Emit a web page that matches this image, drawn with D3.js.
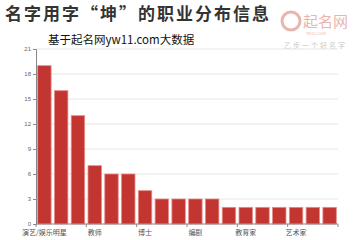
<!DOCTYPE html>
<html>
<head>
<meta charset="utf-8">
<script src="https://cdn.jsdelivr.net/npm/d3@7"></script>
<style>
  body { margin: 0; background: #fff; }
  svg { display: block; font-family: "Noto Sans CJK SC", "Noto Sans", sans-serif; }
</style>
</head>
<body>
<script>
// 职业名称 (only every third one shows on the axis)
const categories = ["演艺/娱乐明星", "商人", "作家", "教师", "医生", "画家", "博士", "律师", "导演",
  "编剧", "工程师", "歌手", "教育家", "运动员", "主持人", "艺术家", "科学家", "书法家"];
const counts = [19, 16, 13, 7, 6, 6, 4, 3, 3, 3, 3, 2, 2, 2, 2, 2, 2, 2];
const yTicks = [0, 3, 6, 9, 12, 15, 18, 21];

const W = 360, H = 240;
const mLeft = 36, mRight = 338, mTop = 49, mBottom = 224;

const svg = d3.select("body").append("svg").attr("width", W).attr("height", H);

// watermark logo top right
const logo = svg.append("g").attr("opacity", 0.55);
logo.append("circle").attr("cx", 291).attr("cy", 21).attr("r", 9)
  .attr("fill", "none").attr("stroke", "#d9796f").attr("stroke-width", 3);
logo.append("text").attr("x", 303).attr("y", 27).attr("font-size", 15)
  .attr("fill", "#d9796f").text("起名网");
logo.append("text").attr("x", 306).attr("y", 35).attr("font-size", 4)
  .attr("fill", "#d9796f").text("YW11.COM");
logo.append("text").attr("x", 284).attr("y", 48).attr("font-size", 7)
  .attr("fill", "#999").attr("letter-spacing", 2).text("乙步一个好名字");

// titles
svg.append("text").attr("x", 5).attr("y", 20)
  .attr("font-size", 17).attr("font-weight", "bold").attr("fill", "#333")
  .attr("letter-spacing", 2)
  .text("名字用字“坤”的职业分布信息");
svg.append("text").attr("x", 48).attr("y", 44)
  .attr("font-size", 11.5).attr("fill", "#111")
  .text("基于起名网yw11.com大数据");

const x = d3.scaleBand().domain(categories).range([mLeft, mRight]).paddingInner(0.2).paddingOuter(0.1);
const xb = d3.scaleBand().domain(categories).range([mLeft, mRight]);
const y = d3.scaleLinear().domain([0, 21]).range([mBottom, mTop]);

// grid
svg.append("g").selectAll("line").data(yTicks.filter(d => d > 0)).join("line")
  .attr("x1", mLeft).attr("x2", mRight)
  .attr("y1", d => y(d)).attr("y2", d => y(d))
  .attr("stroke", "#e6e6e6").attr("stroke-width", 1);

// bars
svg.append("g").selectAll("rect").data(counts).join("rect")
  .attr("x", (d, i) => x(categories[i]))
  .attr("y", d => y(d))
  .attr("width", x.bandwidth())
  .attr("height", d => y(0) - y(d))
  .attr("fill", "#c23531")
  .attr("stroke", "#e88b86").attr("stroke-width", 0.8);

// y axis
const yAxis = svg.append("g").attr("transform", `translate(${mLeft},0)`)
  .call(d3.axisLeft(y).tickValues(yTicks).tickSize(3).tickPadding(2));
yAxis.select(".domain").attr("stroke", "#888");
yAxis.selectAll(".tick line").attr("stroke", "#888");
yAxis.selectAll("text").attr("font-size", 6).attr("fill", "#666");

// x axis: ticks on band edges every 3 categories, labels centered on bars
const xAxis = svg.append("g");
xAxis.append("line").attr("x1", mLeft).attr("x2", mRight)
  .attr("y1", mBottom).attr("y2", mBottom).attr("stroke", "#888");
const tickIdx = d3.range(0, categories.length + 1, 3);
xAxis.selectAll("line.t").data(tickIdx).join("line").attr("class", "t")
  .attr("x1", i => i < categories.length ? xb(categories[i]) : mRight)
  .attr("x2", i => i < categories.length ? xb(categories[i]) : mRight)
  .attr("y1", mBottom).attr("y2", mBottom + 3).attr("stroke", "#888");
xAxis.selectAll("text").data(tickIdx.filter(i => i < categories.length)).join("text")
  .attr("x", i => x(categories[i]) + x.bandwidth() / 2)
  .attr("y", mBottom + 11)
  .attr("text-anchor", "middle")
  .attr("font-size", 7).attr("fill", "#555")
  .text(i => categories[i]);
</script>
</body>
</html>
